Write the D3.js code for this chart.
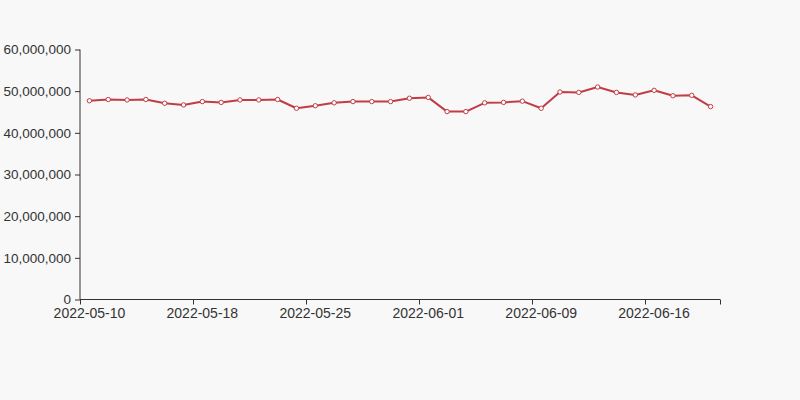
<!DOCTYPE html>
<html>
<head>
<meta charset="utf-8">
<script src="https://cdn.jsdelivr.net/npm/d3@7/dist/d3.min.js"></script>
<style>
  html, body { margin: 0; padding: 0; background: #f8f8f8; }
  svg { display: block; }
  text { font-family: "Liberation Sans", Arial, sans-serif; }
</style>
</head>
<body>
<svg id="chart" width="800" height="400"></svg>
<script>
const dates = [
  "2022-05-10","2022-05-11","2022-05-12","2022-05-13","2022-05-16","2022-05-17",
  "2022-05-18","2022-05-19","2022-05-20","2022-05-21","2022-05-23","2022-05-24",
  "2022-05-25","2022-05-26","2022-05-27","2022-05-28","2022-05-30","2022-05-31",
  "2022-06-01","2022-06-02","2022-06-03","2022-06-06","2022-06-07","2022-06-08",
  "2022-06-09","2022-06-10","2022-06-11","2022-06-13","2022-06-14","2022-06-15",
  "2022-06-16","2022-06-17","2022-06-18","2022-06-20"
];
const values = [
  47700000, 48000000, 47900000, 48000000, 47100000, 46700000,
  47500000, 47300000, 47900000, 47900000, 48000000, 45900000,
  46500000, 47200000, 47500000, 47500000, 47500000, 48300000,
  48500000, 45100000, 45100000, 47200000, 47300000, 47600000,
  45900000, 49800000, 49700000, 51000000, 49700000, 49100000,
  50200000, 48900000, 49000000, 46300000
];
const yTicks = [0, 10000000, 20000000, 30000000, 40000000, 50000000, 60000000];
const labelEvery = 6;

(function () {
const svg = d3.select("#chart");
const gLeft = 80, gRight = 720, gTop = 49.5, gBottom = 299.5;
const textColor = "#333";
const lineColor = "#c13d46";

const x = d3.scaleBand().domain(dates).range([gLeft, gRight]).paddingInner(0).paddingOuter(0);
const y = d3.scaleLinear().domain([0, 60000000]).range([gBottom, gTop]);

// Y axis
const yAxis = svg.append("g")
  .attr("transform", `translate(${gLeft},0)`)
  .call(d3.axisLeft(y).tickValues(yTicks).tickFormat(d3.format(",")).tickSize(5).tickPadding(4));
yAxis.select(".domain").attr("stroke", textColor).attr("d", `M0,${gBottom}V${gTop}`);
yAxis.selectAll(".tick line").attr("stroke", textColor);
yAxis.selectAll(".tick text").attr("fill", textColor).attr("font-size", 13.5)
  .attr("font-family", "'Liberation Sans', Arial, sans-serif");

// X axis (category, boundary gap): ticks at band starts, labels at centers
const xg = svg.append("g");
xg.append("line").attr("x1", gLeft).attr("x2", gRight).attr("y1", gBottom).attr("y2", gBottom)
  .attr("stroke", textColor).attr("stroke-width", 1);
const labeled = dates.filter((d, i) => i % labelEvery === 0);
const tickXs = labeled.map(d => x(d)).concat([x.range()[1]]);
xg.selectAll("line.tk").data(tickXs).enter().append("line").attr("class", "tk")
  .attr("x1", d => Math.round(d) + 0.5).attr("x2", d => Math.round(d) + 0.5)
  .attr("y1", gBottom).attr("y2", gBottom + 5).attr("stroke", textColor);
xg.selectAll("text").data(labeled).enter().append("text")
  .attr("x", d => x(d) + x.bandwidth() / 2)
  .attr("y", gBottom + 18)
  .attr("text-anchor", "middle")
  .attr("font-size", 14)
  .attr("fill", textColor)
  .text(d => d);

// Line
const cx = i => x(dates[i]) + x.bandwidth() / 2;
const line = d3.line().x((d, i) => cx(i)).y(d => y(d));
svg.append("path").datum(values)
  .attr("fill", "none").attr("stroke", lineColor).attr("stroke-width", 2)
  .attr("stroke-linejoin", "round").attr("d", line);

svg.selectAll("circle.pt").data(values).enter().append("circle").attr("class", "pt")
  .attr("cx", (d, i) => cx(i)).attr("cy", d => y(d)).attr("r", 2.2)
  .attr("fill", "#fff").attr("stroke", lineColor).attr("stroke-width", 1);
})();
</script>
</body>
</html>
